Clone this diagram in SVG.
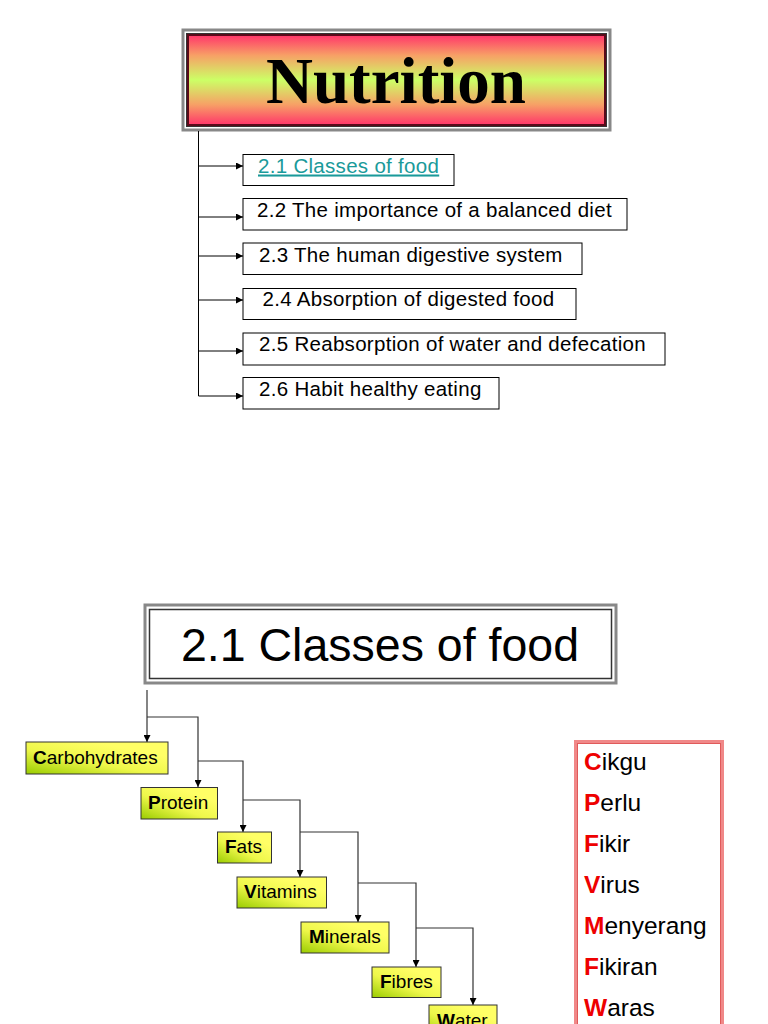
<svg xmlns="http://www.w3.org/2000/svg" width="768" height="1024" viewBox="0 0 768 1024">
<defs>
<linearGradient id="gNut" x1="0" y1="0" x2="0" y2="1">
<stop offset="0" stop-color="#ff3a6a"/>
<stop offset="0.22" stop-color="#f7a066"/>
<stop offset="0.5" stop-color="#ccff66"/>
<stop offset="0.78" stop-color="#f7a066"/>
<stop offset="1" stop-color="#ff3a6a"/>
</linearGradient>
<linearGradient id="gY" x1="0" y1="1" x2="0.7" y2="0.2">
<stop offset="0" stop-color="#99cc00"/>
<stop offset="0.55" stop-color="#eef74a"/>
<stop offset="1" stop-color="#ffff66"/>
</linearGradient>
<marker id="ah" viewBox="0 0 8 8" refX="8" refY="4" markerWidth="7" markerHeight="7" markerUnits="userSpaceOnUse" orient="auto">
<path d="M0,0 L8,4 L0,8 z" fill="#000"/>
</marker>
<style>
.box{fill:#fff;stroke:#000;stroke-width:1}
.t{font-family:"Liberation Sans",Arial,sans-serif;font-size:20.5px;letter-spacing:0.3px;fill:#000}
.y{fill:url(#gY);stroke:#333;stroke-width:1}
.yt{font-family:"Liberation Sans",Arial,sans-serif;font-size:19px;fill:#000}
.c{fill:none;stroke:#000;stroke-width:1;marker-end:url(#ah)}
.c2{fill:none;stroke:#333;stroke-width:1.2}
.m{font-family:"Liberation Sans",Arial,sans-serif;font-size:24.5px;fill:#000}
.r{fill:#ee0000;font-weight:bold}
</style>
</defs>

<g id="nutrition">
<rect x="183" y="30" width="427" height="100" fill="#fff" stroke="#888" stroke-width="3"/>
<rect x="186.5" y="33.5" width="420" height="93" fill="#5a0a1a" stroke="#333" stroke-width="1"/>
<rect x="189" y="36" width="415" height="88" fill="url(#gNut)"/>
<text x="396" y="103" text-anchor="middle" font-family="'Liberation Serif','Times New Roman',serif" font-weight="bold" font-size="65" fill="#000">Nutrition</text>
</g>

<g id="connectors">
<path d="M198.5,131 V396" fill="none" stroke="#000" stroke-width="1"/>
<path class="c" d="M198.5,166 H243"/>
<path class="c" d="M198.5,217 H243"/>
<path class="c" d="M198.5,256 H243"/>
<path class="c" d="M198.5,300 H243"/>
<path class="c" d="M198.5,351 H243"/>
<path class="c" d="M198.5,396 H243"/>
</g>

<g id="n21"><rect class="box" x="243" y="154.5" width="211" height="31"/><text class="t" x="258" y="172.5" style="fill:#1a9a9a" text-decoration="underline">2.1 Classes of food</text></g>
<g id="n22"><rect class="box" x="243" y="198.5" width="384" height="31.5"/><text class="t" x="257" y="217">2.2 The importance of a balanced diet</text></g>
<g id="n23"><rect class="box" x="243" y="243" width="339" height="31.5"/><text class="t" x="259" y="261.5">2.3 The human digestive system</text></g>
<g id="n24"><rect class="box" x="243" y="288.5" width="333" height="31"/><text class="t" x="262.5" y="306">2.4 Absorption of digested food</text></g>
<g id="n25"><rect class="box" x="243" y="333" width="422" height="32"/><text class="t" x="259" y="351">2.5 Reabsorption of water and defecation</text></g>
<g id="n26"><rect class="box" x="243" y="377.5" width="256" height="31.5"/><text class="t" x="259" y="395.5">2.6 Habit healthy eating</text></g>

<g id="title21">
<rect x="145" y="605" width="471" height="78" fill="#fff" stroke="#888" stroke-width="3"/>
<rect x="149.5" y="609.5" width="462" height="69" fill="#fff" stroke="#333" stroke-width="1.5"/>
<text x="380" y="661" text-anchor="middle" font-family="'Liberation Sans',Arial,sans-serif" font-size="46.5" fill="#000">2.1 Classes of food</text>
</g>

<g id="connectors2">
<path class="c2" d="M147,690 V742" marker-end="url(#ah)"/>
<path class="c2" d="M147,717 H198 V787" marker-end="url(#ah)"/>
<path class="c2" d="M198,761 H243 V832" marker-end="url(#ah)"/>
<path class="c2" d="M243,800 H300 V877" marker-end="url(#ah)"/>
<path class="c2" d="M300,832 H358 V922" marker-end="url(#ah)"/>
<path class="c2" d="M358,883 H416 V967" marker-end="url(#ah)"/>
<path class="c2" d="M416,928 H473 V1005" marker-end="url(#ah)"/>
</g>

<g id="carbohydrates"><rect class="y" x="26" y="742" width="142" height="32"/><text class="yt" x="33" y="764"><tspan font-weight="bold">C</tspan>arbohydrates</text></g>
<g id="protein"><rect class="y" x="141" y="787.5" width="76.5" height="31.5"/><text class="yt" x="148" y="809"><tspan font-weight="bold">P</tspan>rotein</text></g>
<g id="fats"><rect class="y" x="217.5" y="832" width="54" height="31"/><text class="yt" x="225" y="853"><tspan font-weight="bold">F</tspan>ats</text></g>
<g id="vitamins"><rect class="y" x="237" y="877" width="89.5" height="31"/><text class="yt" x="244" y="898"><tspan font-weight="bold">V</tspan>itamins</text></g>
<g id="minerals"><rect class="y" x="301" y="922" width="88" height="31"/><text class="yt" x="309" y="943"><tspan font-weight="bold">M</tspan>inerals</text></g>
<g id="fibres"><rect class="y" x="372" y="967" width="69" height="30.5"/><text class="yt" x="380" y="988"><tspan font-weight="bold">F</tspan>ibres</text></g>
<g id="water"><rect class="y" x="429" y="1005" width="68" height="32"/><text class="yt" x="437" y="1027"><tspan font-weight="bold">W</tspan>ater</text></g>

<g id="mnemonic">
<rect x="575.5" y="741.5" width="147" height="300" fill="#fff" stroke="#f08888" stroke-width="3"/>
<rect x="577.5" y="743.5" width="143" height="296" fill="none" stroke="#e05a5a" stroke-width="1"/>
<text class="m" x="584" y="770"><tspan class="r">C</tspan>ikgu</text>
<text class="m" x="584" y="811"><tspan class="r">P</tspan>erlu</text>
<text class="m" x="584" y="852"><tspan class="r">F</tspan>ikir</text>
<text class="m" x="584" y="893"><tspan class="r">V</tspan>irus</text>
<text class="m" x="584" y="934"><tspan class="r">M</tspan>enyerang</text>
<text class="m" x="584" y="975"><tspan class="r">F</tspan>ikiran</text>
<text class="m" x="584" y="1016"><tspan class="r">W</tspan>aras</text>
</g>
</svg>
